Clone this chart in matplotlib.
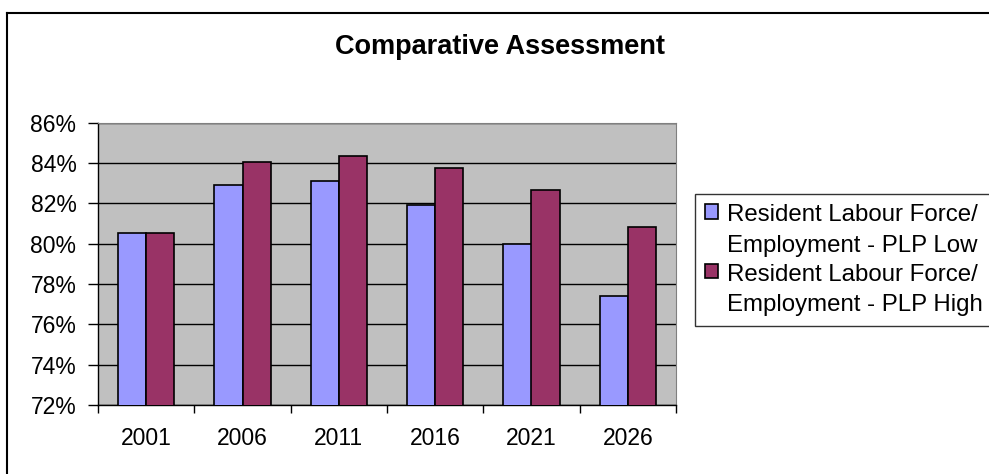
import matplotlib.pyplot as plt
import numpy as np
from matplotlib.lines import Line2D
from matplotlib.ticker import FuncFormatter, FixedLocator

plt.rcParams["font.family"] = ["Liberation Sans", "DejaVu Sans"]

years = ["2001", "2006", "2011", "2016", "2021", "2026"]
plp_low = [80.55, 82.93, 83.12, 81.90, 79.97, 77.41]
plp_high = [80.55, 84.03, 84.33, 83.75, 82.64, 80.81]
labels = ["Resident Labour Force/\nEmployment - PLP Low",
          "Resident Labour Force/\nEmployment - PLP High"]

W, H = 989, 474
fig = plt.figure(figsize=(W / 100, H / 100), dpi=100)
ax = fig.add_axes([98 / W, 1 - 405 / H, (676 - 98) / W, (405 - 122.7) / H])

x = np.arange(len(years))
bw = 0.293
ax.bar(x - bw / 2, plp_low, bw, color="#9999ff", edgecolor="black",
       linewidth=1.2, label=labels[0], zorder=3)
ax.bar(x + bw / 2, plp_high, bw, color="#993366", edgecolor="black",
       linewidth=1.2, label=labels[1], zorder=3)

ax.set_facecolor("#c0c0c0")
ax.set_xlim(-0.5, len(years) - 0.5)
ax.set_ylim(72, 86)
ax.set_yticks(np.arange(72, 87, 2))
ax.yaxis.set_major_formatter(FuncFormatter(lambda v, p: f"{v:.0f}%"))
ax.grid(axis="y", color="black", linewidth=1, zorder=1)
ax.set_axisbelow(True)

ax.set_xticks(x)
ax.set_xticklabels(years)
ax.xaxis.set_minor_locator(FixedLocator(np.arange(-0.5, len(years), 1)))
ax.tick_params(axis="x", which="major", length=0, pad=16, labelsize=16.5)
ax.tick_params(axis="x", which="minor", length=6, width=1, color="black")
ax.tick_params(axis="y", length=7, width=1, labelsize=16.5, pad=8.5)

for s in ["top", "right"]:
    ax.spines[s].set_color("#808080")
for s in ["left", "bottom"]:
    ax.spines[s].set_color("black")
    ax.spines[s].set_linewidth(1)

fig.text(500 / W, 1 - 47 / H, "Comparative Assessment", ha="center",
         va="center", fontsize=19.5, fontweight="bold")

leg = fig.legend(loc="upper left", bbox_to_anchor=(695 / W, 1 - 194 / H),
                 fontsize=17.3, frameon=True, fancybox=False, edgecolor="black",
                 handlelength=0.55, handleheight=0.55, handletextpad=0.38,
                 labelspacing=0.3, borderpad=0.42, borderaxespad=0)
leg.get_frame().set_linewidth(1)
for t in leg.get_texts():
    t.set_linespacing(1.5)
# put the colour box next to the first line of each label
for col in leg._legend_handle_box.get_children():
    for row in col.get_children():
        row.align = "top"

# outer chart frame
fig.add_artist(Line2D([7 / W, 7 / W], [0, 1 - 13 / H], color="black", lw=1.5))
fig.add_artist(Line2D([7 / W, 1], [1 - 13 / H, 1 - 13 / H], color="black", lw=1.5))

fig.savefig("out.png", dpi=100)
